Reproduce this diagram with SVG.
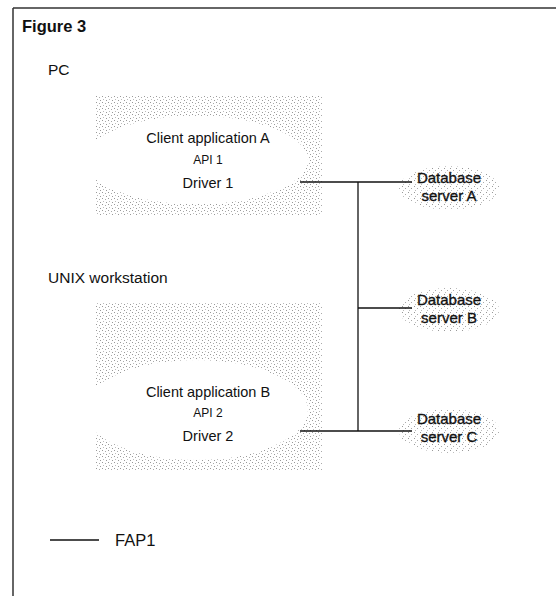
<svg xmlns="http://www.w3.org/2000/svg" width="560" height="596" viewBox="0 0 560 596">
<defs>
<pattern id="dots" width="6" height="6" patternUnits="userSpaceOnUse">
<rect x="0" y="0" width="1" height="1" fill="#999"/>
<rect x="3" y="1" width="1" height="1" fill="#aaa"/>
<rect x="1" y="3" width="1" height="1" fill="#bbb"/>
<rect x="4" y="4" width="1" height="1" fill="#999"/>
</pattern>
<pattern id="dots2" width="6" height="6" patternUnits="userSpaceOnUse">
<rect x="0" y="0" width="1" height="1" fill="#999"/>
<rect x="3" y="2" width="1" height="1" fill="#aaa"/>
<rect x="1" y="4" width="1" height="1" fill="#bbb"/>
</pattern>
</defs>
<style>
text{font-family:"Liberation Sans",Arial,sans-serif;fill:#111}
.lbl{font-size:15.5px}
.in{font-size:14.5px;text-anchor:middle}
.api{font-size:12px;text-anchor:middle}
.db{font-size:15px;text-anchor:middle;stroke:#111;stroke-width:0.35}
.ln{stroke:#111;stroke-width:1.3;fill:none}
</style>
<rect width="560" height="596" fill="#fff"/>
<g id="frame">
<line x1="13" y1="8" x2="556" y2="8" stroke="#333" stroke-width="1.5"/>
<line x1="13" y1="8" x2="13" y2="596" stroke="#333" stroke-width="1.5"/>
<text x="22" y="32" style="font-size:16.5px;font-weight:bold">Figure 3</text>
</g>
<g id="pc">
<text class="lbl" x="48" y="75">PC</text>
<rect x="96" y="95" width="226" height="120" fill="url(#dots)"/>
<ellipse cx="196" cy="160" rx="112" ry="44" fill="#fff"/>
<text class="in" x="208" y="143">Client application A</text>
<text class="api" x="208" y="164">API 1</text>
<text class="in" x="208" y="188">Driver 1</text>
</g>
<g id="unix">
<text class="lbl" x="48" y="283">UNIX workstation</text>
<rect x="96" y="302" width="226" height="168" fill="url(#dots)"/>
<ellipse cx="196" cy="410" rx="112" ry="50" fill="#fff"/>
<text class="in" x="208" y="397">Client application B</text>
<text class="api" x="208" y="417">API 2</text>
<text class="in" x="208" y="441">Driver 2</text>
</g>
<g id="serverA">
<ellipse cx="449" cy="188" rx="50" ry="22" fill="url(#dots2)"/>
<text class="db" x="449" y="183">Database</text>
<text class="db" x="449" y="201">server A</text>
</g>
<g id="serverB">
<ellipse cx="449" cy="310" rx="50" ry="22" fill="url(#dots2)"/>
<text class="db" x="449" y="305">Database</text>
<text class="db" x="449" y="323">server B</text>
</g>
<g id="serverC">
<ellipse cx="449" cy="431" rx="50" ry="22" fill="url(#dots2)"/>
<text class="db" x="449" y="424">Database</text>
<text class="db" x="449" y="442">server C</text>
</g>
<g id="connectors">
<line class="ln" x1="300" y1="182" x2="412" y2="182"/>
<line class="ln" x1="358" y1="182" x2="358" y2="431"/>
<line class="ln" x1="358" y1="308" x2="412" y2="308"/>
<line class="ln" x1="300" y1="431" x2="412" y2="431"/>
</g>
<g id="legend">
<line class="ln" x1="50" y1="540" x2="99" y2="540"/>
<text x="115" y="546" style="font-size:16.5px">FAP1</text>
</g>
</svg>
